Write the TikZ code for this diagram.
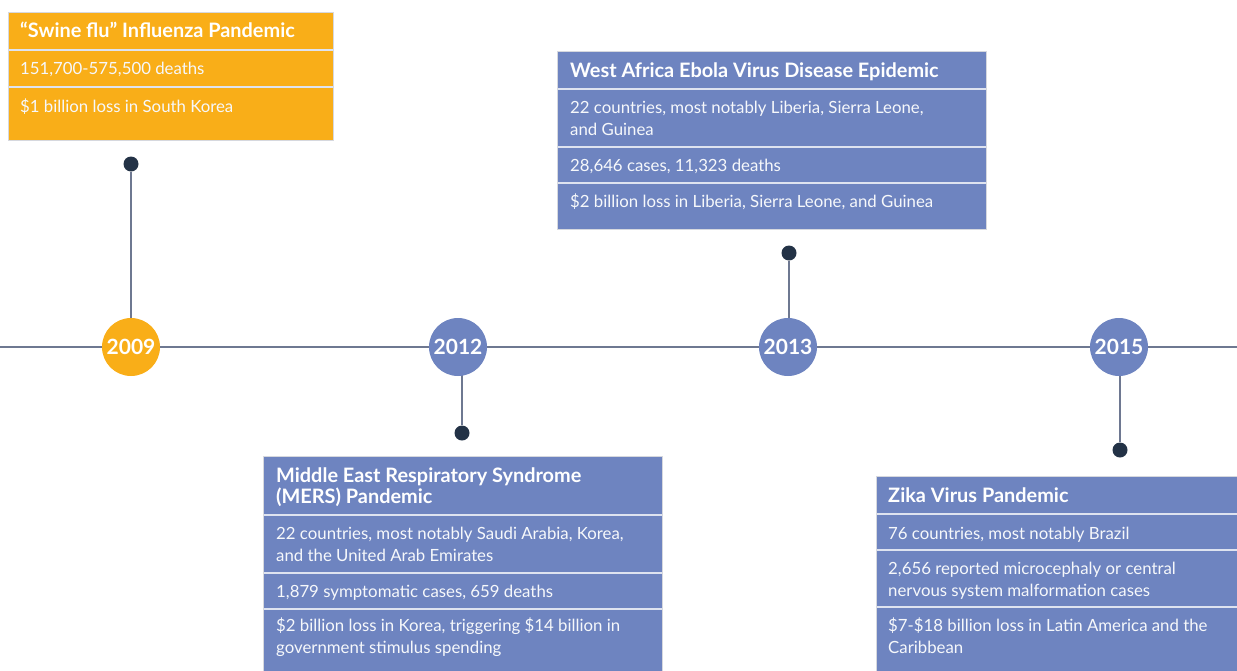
\documentclass[tikz,border=0pt]{standalone}
\usepackage{fontspec}
\setmainfont{Lato}
\definecolor{orangefill}{RGB}{249,174,24}
\definecolor{bluefill}{RGB}{110,132,192}
\definecolor{navy}{RGB}{35,50,70}
\definecolor{linecol}{RGB}{110,120,145}
\definecolor{sepcol}{RGB}{222,227,240}
\definecolor{bordercol}{RGB}{214,216,222}
\begin{document}
\begin{tikzpicture}[x=1pt,y=-1pt,
  titletext/.style={anchor=base west, inner sep=0, font=\fontsize{19.9}{21}\selectfont\bfseries, text=white, align=left},
  bodytext/.style={anchor=base west, inner sep=0, font=\fontsize{16.8}{21.5}\selectfont, text=white!94!bluefill, align=left},
  yearnode/.style={circle, minimum size=58pt, inner sep=0, font=\fontsize{21}{23}\selectfont\bfseries, text=white},
  dotnode/.style={circle, fill=navy, minimum size=15pt, inner sep=0},
  stemline/.style={draw=linecol, line width=1.3pt},
  sepline/.style={draw=sepcol, line width=1.2pt},
  boxframe/.style={draw=bordercol, line width=0.8pt}
]
\useasboundingbox (0,0) rectangle (1237,670);

% timeline
\coordinate (tlL) at (0,347);
\coordinate (tlR) at (1237,347);
\draw[stemline] (tlL) -- (tlR);

% dots
\node[dotnode] (d2009) at (131,164) {};
\node[dotnode] (d2012) at (462,433) {};
\node[dotnode] (d2013) at (789,253) {};
\node[dotnode] (d2015) at (1120,450) {};

% stems
\draw[stemline] (d2009) -- (d2009 |- tlL);
\draw[stemline] (d2012) -- (d2012 |- tlL);
\draw[stemline] (d2013) -- (d2013 |- tlL);
\draw[stemline] (d2015) -- (d2015 |- tlL);

% years
\node[yearnode, fill=orangefill] (y2009) at (131,347) {2009};
\node[yearnode, fill=bluefill] (y2012) at (458,347) {2012};
\node[yearnode, fill=bluefill] (y2013) at (788,347) {2013};
\node[yearnode, fill=bluefill] (y2015) at (1119,347) {2015};

% Swine flu box
\fill[orangefill] (8,12) rectangle (333,140);
\draw[sepline] (8,50) -- (333,50);
\draw[sepline] (8,87) -- (333,87);
\draw[boxframe] (8,12) rectangle (333,140);
\node[titletext] (t1) at (20,37) {“Swine flu” Influenza Pandemic};
\node[bodytext] (t1a) at (20,74) {151,700-575,500 deaths};
\node[bodytext] (t1b) at (20,112) {\$1 billion loss in South Korea};

% Ebola box (multi-line nodes are placed at the baseline of their last line)
\fill[bluefill] (557,51) rectangle (986,229);
\draw[sepline] (557,89) -- (986,89);
\draw[sepline] (557,147) -- (986,147);
\draw[sepline] (557,183) -- (986,183);
\draw[boxframe] (557,51) rectangle (986,229);
\node[titletext] (t3) at (570,77) {West Africa Ebola Virus Disease Epidemic};
\node[bodytext] (t3a) at (570,135) {22 countries, most notably Liberia, Sierra Leone,\\and Guinea};
\node[bodytext] (t3b) at (570,171) {28,646 cases, 11,323 deaths};
\node[bodytext] (t3c) at (570,207) {\$2 billion loss in Liberia, Sierra Leone, and Guinea};

% MERS box
\fill[bluefill] (263,456) rectangle (662,672);
\draw[sepline] (263,515) -- (662,515);
\draw[sepline] (263,573) -- (662,573);
\draw[sepline] (263,609) -- (662,609);
\draw[boxframe] (263,672) -- (263,456) -- (662,456) -- (662,672);
\node[titletext] (t2) at (276,503) {Middle East Respiratory Syndrome\\(MERS) Pandemic};
\node[bodytext] (t2a) at (276,561) {22 countries, most notably Saudi Arabia, Korea,\\and the United Arab Emirates};
\node[bodytext] (t2b) at (276,597) {1,879 symptomatic cases, 659 deaths};
\node[bodytext] (t2c) at (276,653) {\$2 billion loss in Korea, triggering \$14 billion in\\government stimulus spending};

% Zika box
\fill[bluefill] (876,476) rectangle (1240,672);
\draw[sepline] (876,514) -- (1240,514);
\draw[sepline] (876,550) -- (1240,550);
\draw[sepline] (876,607) -- (1240,607);
\draw[boxframe] (876,672) -- (876,476) -- (1240,476);
\node[titletext] (t4) at (888,502) {Zika Virus Pandemic};
\node[bodytext] (t4a) at (888,539) {76 countries, most notably Brazil};
\node[bodytext] (t4b) at (888,596) {2,656 reported microcephaly or central\\nervous system malformation cases};
\node[bodytext] (t4c) at (888,653) {\$7-\$18 billion loss in Latin America and the\\Caribbean};
\end{tikzpicture}
\end{document}
